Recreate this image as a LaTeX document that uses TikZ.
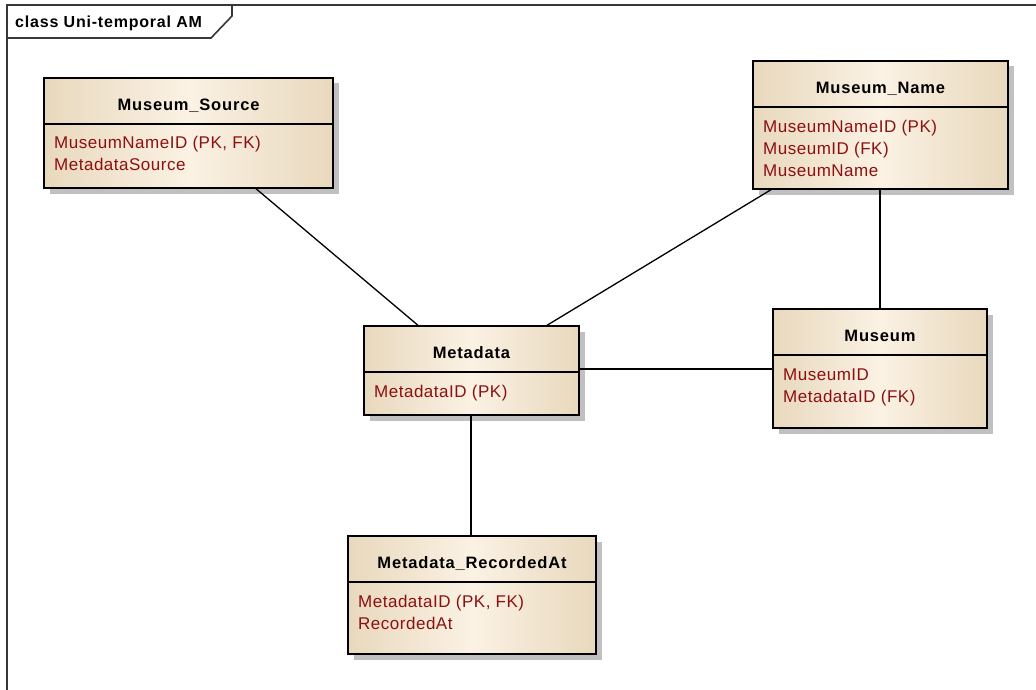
\documentclass[tikz,border=0pt]{standalone}
\usepackage{fontspec}
\usetikzlibrary{calc,fit,shadows}

\newfontfamily\hdfont{Liberation Sans}[LetterSpace=5]
\newfontfamily\lbfont{Liberation Sans}[LetterSpace=5]
\newfontfamily\atfont{Liberation Sans}[LetterSpace=3]

\definecolor{attrred}{RGB}{140,16,16}
\definecolor{boxedge}{RGB}{232,216,189}
\definecolor{boxmid}{RGB}{251,242,228}
\definecolor{shadowgray}{RGB}{192,192,192}
\definecolor{framegray}{RGB}{55,55,55}

\tikzset{
  classbox/.style={draw=black, line width=1.4pt, inner sep=0pt,
    left color=boxedge, right color=boxedge, middle color=boxmid,
    general shadow={fill=shadowgray, shadow xshift=5.5pt, shadow yshift=-5.5pt}},
  divline/.style={draw=black, line width=1.4pt},
  classtitle/.style={anchor=base, inner sep=0pt,
    font=\hdfont\bfseries\fontsize{16.5}{19}\selectfont},
  attr/.style={anchor=base west, inner sep=0pt, text=attrred,
    font=\atfont\fontsize{17}{20}\selectfont},
  link/.style={draw=black, line width=1.3pt},
  frameline/.style={draw=framegray, line width=1.6pt},
  framelabel/.style={anchor=base west, inner sep=0pt,
    font=\lbfont\bfseries\fontsize{16}{19}\selectfont},
}

% one class box: name, left, top, right, bottom, divider y, title
\newcommand\umlclass[7]{%
  \node[classbox, fit={(#2,#3) (#4,#5)}] (#1) {};
  \draw[divline] (#1.west |- 0,#6) -- (#1.east |- 0,#6);
  \node[classtitle] (#1-title) at ($(#1.north)+(0,33)$) {#7};
}

\begin{document}
\begin{tikzpicture}[x=1pt,y=-1pt]
  \useasboundingbox[fill=white] (0,0) rectangle (1036,690);

  % diagram frame and its name tab
  \draw[frameline] (7,700) -- (7,5) -- (1040,5);
  \draw[frameline] (7,38) -- (211,38) -- (232,16) -- (232,5);
  \node[framelabel] (framename) at (15,28) {class Uni-temporal AM};

  % classes
  \umlclass{ms}{44}{78}{333}{188}{124}{Museum\_Source}
  \node[attr] (ms-a1) at (54,149) {MuseumNameID (PK, FK)};
  \node[attr] (ms-a2) at (54,171) {MetadataSource};

  \umlclass{mn}{753}{61}{1008}{189}{107}{Museum\_Name}
  \node[attr] (mn-a1) at (763,132) {MuseumNameID (PK)};
  \node[attr] (mn-a2) at (763,154) {MuseumID (FK)};
  \node[attr] (mn-a3) at (763,176) {MuseumName};

  \umlclass{md}{364}{326}{579}{415}{372}{Metadata}
  \node[attr] (md-a1) at (374,397) {MetadataID (PK)};

  \umlclass{mu}{773}{309}{987}{428}{355}{Museum}
  \node[attr] (mu-a1) at (783,380) {MuseumID};
  \node[attr] (mu-a2) at (783,402) {MetadataID (FK)};

  \umlclass{mr}{348}{536}{596}{654}{582}{Metadata\_RecordedAt}
  \node[attr] (mr-a1) at (358,607) {MetadataID (PK, FK)};
  \node[attr] (mr-a2) at (358,629) {RecordedAt};

  % associations
  \draw[link] (256,0 |- ms.south) -- (418,0 |- md.north);
  \draw[link] (771,0 |- mn.south) -- (547,0 |- md.north);
  \draw[link] (880,0 |- mn.south) -- (880,0 |- mu.north);
  \draw[link] (md.east |- 0,369) -- (mu.west |- 0,369);
  \draw[link] (471,0 |- md.south) -- (471,0 |- mr.north);
\end{tikzpicture}
\end{document}
